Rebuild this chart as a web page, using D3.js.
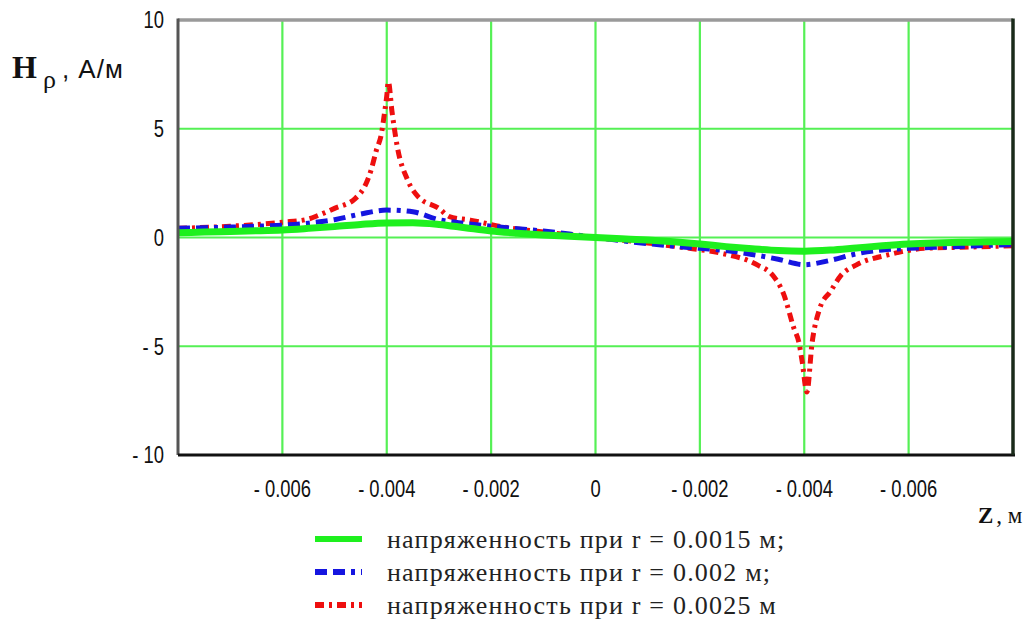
<!DOCTYPE html>
<meta charset="utf-8">
<script src="https://d3js.org/d3.v7.min.js"></script>
<style>
  body { margin: 0; background: #fff; }
</style>
<div id="chart"></div>
<script>

// z positions (m), shared by the two smooth curves
var zSmooth = [-0.008, -0.0075, -0.007, -0.0065, -0.006, -0.0055, -0.005, -0.0045, -0.004, -0.0035,
  -0.003, -0.0025, -0.002, -0.0015, -0.001, -0.0005, 0, 0.0005, 0.001, 0.0015, 0.002, 0.0025,
  0.003, 0.0035, 0.004, 0.0045, 0.005, 0.0055, 0.006, 0.0065, 0.007, 0.0075, 0.008];

// r = 0.0015 m
var h15 = [0.22, 0.25, 0.28, 0.31, 0.35, 0.42, 0.5, 0.6, 0.67, 0.68,
  0.6, 0.45, 0.3, 0.2, 0.12, 0.06, 0, -0.06, -0.12, -0.2, -0.3, -0.42,
  -0.52, -0.6, -0.63, -0.58, -0.48, -0.38, -0.3, -0.25, -0.22, -0.2, -0.18];

// r = 0.002 m
var h20 = [0.42, 0.45, 0.48, 0.52, 0.57, 0.66, 0.82, 1.08, 1.26, 1.18,
  0.82, 0.65, 0.52, 0.4, 0.3, 0.16, 0, -0.15, -0.28, -0.4, -0.5, -0.6,
  -0.78, -1.0, -1.25, -1.05, -0.75, -0.57, -0.5, -0.45, -0.41, -0.36, -0.33];

// r = 0.0025 m (sharper peaks, read at more points)
var zSharp = [-0.008, -0.007, -0.006, -0.0055, -0.0053, -0.005, -0.0046, -0.0044, -0.0043, -0.0042,
  -0.0041, -0.00405, -0.004, -0.00397, -0.0039, -0.0038, -0.0036, -0.0034, -0.003, -0.0028,
  -0.0024, -0.0018, -0.001, 0, 0.001, 0.0018, 0.0024, 0.0031, 0.0034, 0.0036,
  0.0038, 0.0039, 0.00396, 0.00405, 0.00415, 0.0043, 0.0045, 0.0047, 0.005, 0.0056,
  0.0063, 0.007, 0.008];
var h25 = [0.42, 0.52, 0.7, 0.85, 1.03, 1.34, 1.8, 2.46, 3.1, 4.0,
  4.8, 5.6, 6.5, 7.16, 5.8, 4.2, 2.64, 1.88, 1.34, 0.96,
  0.8, 0.5, 0.25, 0, -0.25, -0.5, -0.72, -1.26, -1.75, -2.57,
  -4.16, -4.85, -5.7, -7.1, -4.85, -3.24, -2.49, -1.75, -1.26, -0.8,
  -0.5, -0.45, -0.38];

var xTicks = [-0.006, -0.004, -0.002, 0, 0.002, 0.004, 0.006];
var xTickLabels = ["- 0.006", "- 0.004", "- 0.002", "0", "- 0.002", "- 0.004", "- 0.006"];
var yTicks = [10, 5, 0, -5, -10];
var yTickLabels = ["10", "5", "0", "- 5", "- 10"];
var legendLabels = ["напряженность при r = 0.0015 м;", "напряженность при r = 0.002 м;", "напряженность при r = 0.0025 м"];

var W = 1031, H = 624;
var plot = {left: 178, right: 1013, top: 20, bottom: 455};

var svg = d3.select("#chart").append("svg")
  .attr("width", W).attr("height", H);

var x = d3.scaleLinear().domain([-0.008, 0.008]).range([plot.left, plot.right]);
var y = d3.scaleLinear().domain([-10, 10]).range([plot.bottom, plot.top]);

var gridColor = "#55f055";
var tickFont = "'Liberation Sans', sans-serif";
var squeeze = 0.8;   // tick digits in the picture are narrow

// grid
svg.append("g").selectAll("line").data(xTicks).join("line")
  .attr("x1", function(d) { return x(d); }).attr("x2", function(d) { return x(d); })
  .attr("y1", plot.top).attr("y2", plot.bottom)
  .attr("stroke", gridColor).attr("stroke-width", 2.2);
svg.append("g").selectAll("line").data([5, 0, -5]).join("line")
  .attr("x1", plot.left).attr("x2", plot.right)
  .attr("y1", function(d) { return y(d); }).attr("y2", function(d) { return y(d); })
  .attr("stroke", gridColor).attr("stroke-width", 2.2);

// series
var line = d3.line()
  .x(function(d) { return x(d[0]); })
  .y(function(d) { return y(d[1]); })
  .curve(d3.curveMonotoneX);

var series = [
  {z: zSmooth, h: h15, color: "#1ef01e", width: 7, dash: null},
  {z: zSmooth, h: h20, color: "#1515e0", width: 5, dash: "12,6,12,6,4,6"},
  {z: zSharp, h: h25, color: "#ee0f0f", width: 5, dash: "9,5,3,5"}
];

// red first, green last: the green band lies over the others at the tails
[series[2], series[1], series[0]].forEach(function(s) {
  svg.append("path")
    .datum(d3.zip(s.z, s.h))
    .attr("d", line)
    .attr("fill", "none")
    .attr("stroke", s.color)
    .attr("stroke-width", s.width)
    .attr("stroke-dasharray", s.dash);
});

// frame
svg.append("line").attr("x1", plot.left).attr("x2", plot.right).attr("y1", plot.top).attr("y2", plot.top)
  .attr("stroke", "#9a9a9a").attr("stroke-width", 3.5);
svg.append("line").attr("x1", plot.left).attr("x2", plot.left).attr("y1", plot.top - 1.5).attr("y2", plot.bottom)
  .attr("stroke", "#555").attr("stroke-width", 3);
svg.append("line").attr("x1", plot.left).attr("x2", plot.right + 2).attr("y1", plot.bottom).attr("y2", plot.bottom)
  .attr("stroke", "#111").attr("stroke-width", 3);
svg.append("line").attr("x1", plot.right).attr("x2", plot.right).attr("y1", plot.top - 1.5).attr("y2", plot.bottom)
  .attr("stroke", "#1a2a1a").attr("stroke-width", 3.5);

// tick labels
svg.append("g").selectAll("text").data(xTicks).join("text")
  .attr("transform", function(d) { return "translate(" + x(d) + ",497) scale(" + squeeze + ",1)"; })
  .attr("text-anchor", "middle")
  .style("font-family", tickFont).style("font-size", "23px").attr("fill", "#111")
  .text(function(d, i) { return xTickLabels[i]; });

svg.append("g").selectAll("text").data(yTicks).join("text")
  .attr("transform", function(d) { return "translate(164," + y(d) + ") scale(" + squeeze + ",1)"; })
  .attr("dy", "0.36em")
  .attr("text-anchor", "end")
  .style("font-family", tickFont).style("font-size", "23px").attr("fill", "#111")
  .text(function(d, i) { return yTickLabels[i]; });

// axis titles
var yt = svg.append("text").attr("x", 12).attr("y", 78)
  .style("font-family", "'Liberation Serif', serif").attr("fill", "#111");
yt.append("tspan").style("font-weight", "bold").style("font-size", "32px").text("H");
yt.append("tspan").attr("dx", 6).attr("dy", 10).style("font-size", "26px").text("ρ");
yt.append("tspan").attr("dx", 6).attr("dy", -10).style("font-size", "26px")
  .style("letter-spacing", "1px")
  .style("font-family", "'Liberation Sans', sans-serif").text(", А/м");

var xt = svg.append("text").attr("x", 978).attr("y", 523)
  .style("font-family", "'Liberation Serif', serif").attr("fill", "#111");
xt.append("tspan").style("font-weight", "bold").style("font-size", "23px").text("Z");
xt.append("tspan").attr("dx", 3).style("font-size", "23px").text(", м");

// legend
var legend = svg.append("g").selectAll("g").data(series).join("g")
  .attr("transform", function(d, i) { return "translate(315," + (539 + i * 33) + ")"; });
legend.append("line")
  .attr("x1", 0).attr("x2", 47).attr("y1", 0).attr("y2", 0)
  .attr("stroke", function(d) { return d.color; })
  .attr("stroke-width", 6)
  .attr("stroke-dasharray", function(d) { return d.dash; });
legend.append("text")
  .attr("x", 72).attr("dy", "0.33em")
  .style("font-family", "'Liberation Serif', serif").style("font-size", "26px")
  .style("letter-spacing", "1.2px").attr("fill", "#222")
  .text(function(d, i) { return legendLabels[i]; });

</script>
